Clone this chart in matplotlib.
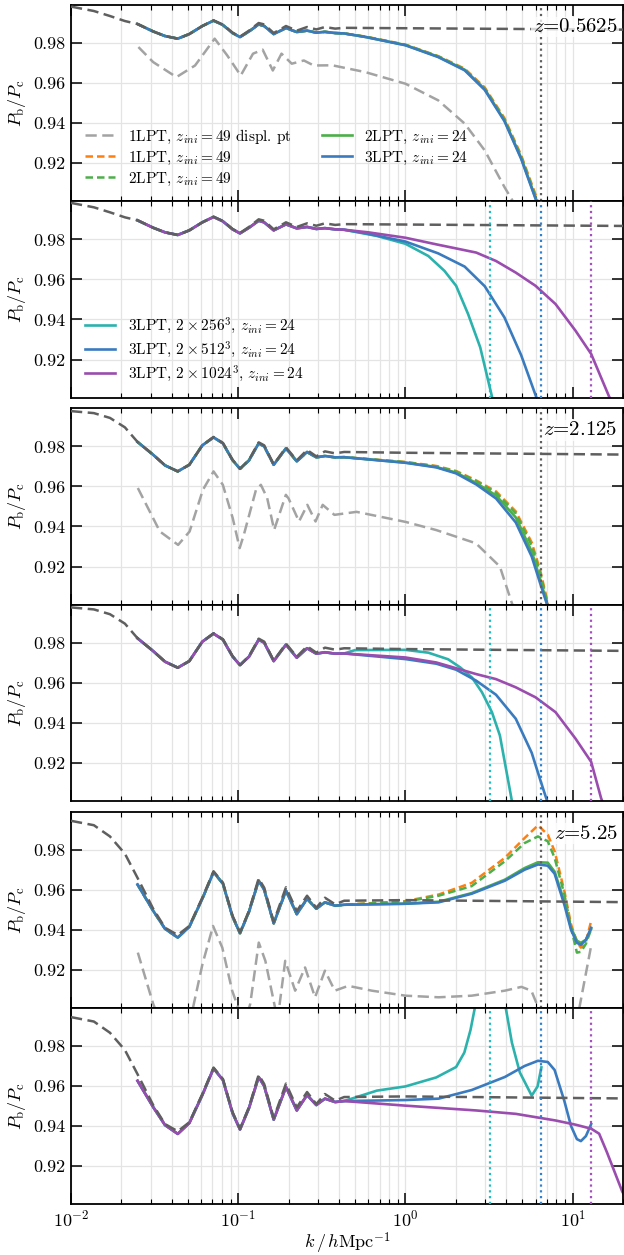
import numpy as np
import matplotlib
matplotlib.use("Agg")
import matplotlib.pyplot as plt
from matplotlib.ticker import LogLocator, FixedLocator, FormatStrFormatter, NullFormatter, NullLocator

plt.rcParams.update({
    "font.family": "serif",
    "font.serif": ["cmr10", "DejaVu Serif"],
    "mathtext.fontset": "cm",
    "axes.formatter.use_mathtext": True,
    "axes.unicode_minus": False,
})

# ---------------- data ----------------
redshifts = ["0.5625", "2.125", "5.25"]
k_nyq = [3.217, 6.434, 12.868]

# shared BAO-region k grid
k_bao = [0.025, 0.031, 0.0365, 0.0435, 0.051, 0.061, 0.0712, 0.081, 0.0925, 0.1025,
         0.116, 0.1325, 0.143, 0.163, 0.193, 0.224, 0.258, 0.293, 0.33, 0.38, 0.43]

# reference (dark dashed) low-k part and tail
k_ref_lo = [0.010, 0.0137, 0.0171, 0.0210]
k_ref_hi = [1.0, 20.0]
ref_lo_z0 = [0.9982, 0.9960, 0.9935, 0.9910]
ref_bao_z0 = [0.9895, 0.9858, 0.9835, 0.9822, 0.9845, 0.9885, 0.9913, 0.9892, 0.9852, 0.9832,
              0.9862, 0.9900, 0.9893, 0.9850, 0.9885, 0.9862, 0.9880, 0.9868, 0.9880, 0.9872, 0.9876]
ref_hi_z0 = [0.9874, 0.9867]
ref_lo_z1 = [0.9976, 0.9966, 0.9942, 0.9895]
ref_bao_z1 = [0.9822, 0.9758, 0.9705, 0.9675, 0.9708, 0.9805, 0.9847, 0.9817, 0.9733, 0.9688,
              0.9733, 0.9820, 0.9805, 0.9710, 0.9795, 0.9730, 0.9782, 0.9750, 0.9775, 0.9765, 0.9772]
ref_hi_z1 = [0.9768, 0.9759]
ref_lo_z2 = [0.9944, 0.9922, 0.9866, 0.9780]
ref_bao_z2 = [0.9659, 0.9505, 0.9410, 0.9374, 0.9419, 0.9560, 0.9692, 0.9635, 0.9470, 0.9386,
              0.9495, 0.9656, 0.9610, 0.9440, 0.9612, 0.9493, 0.9570, 0.9510, 0.9560, 0.9527, 0.9545]
ref_hi_z2 = [0.9548, 0.9538]

# simulations, BAO region (common to all runs of a redshift)
sim_bao_z0 = [0.9895, 0.9858, 0.9835, 0.9822, 0.9845, 0.9885, 0.9912, 0.9890, 0.9850, 0.9830,
              0.9858, 0.9893, 0.9885, 0.9845, 0.9875, 0.9855, 0.9862, 0.9852, 0.9856, 0.9850, 0.9848]
sim_bao_z1 = [0.9822, 0.9758, 0.9705, 0.9675, 0.9708, 0.9805, 0.9845, 0.9815, 0.9731, 0.9688,
              0.9730, 0.9815, 0.9800, 0.9708, 0.9790, 0.9725, 0.9772, 0.9745, 0.9752, 0.9745, 0.9746]
sim_bao_z2 = [0.9626, 0.9495, 0.9405, 0.9361, 0.9415, 0.9555, 0.9688, 0.9630, 0.9465, 0.9383,
              0.9490, 0.9645, 0.9600, 0.9432, 0.9595, 0.9478, 0.9555, 0.9505, 0.9537, 0.9520, 0.9525]

# --- z = 0.5625 tails ---
k_t0 = [0.58, 1.0, 1.57, 2.26, 2.98, 3.91, 4.92, 6.05, 6.6]
orange49_z0 = [0.9832, 0.9792, 0.9735, 0.9672, 0.9578, 0.9425, 0.9240, 0.9035, 0.893]
green49_z0 = [0.9831, 0.9791, 0.9733, 0.9669, 0.9573, 0.9418, 0.9232, 0.9025, 0.892]
green24_z0 = [0.9830, 0.9790, 0.9732, 0.9667, 0.9570, 0.9414, 0.9227, 0.9018, 0.892]
blue24_z0 = [0.9830, 0.9789, 0.9730, 0.9664, 0.9566, 0.9410, 0.9222, 0.9014, 0.891]
k_teal_z0 = [0.675, 1.0, 1.37, 1.71, 2.01, 2.37, 2.8, 3.29, 3.5]
teal_z0 = [0.9817, 0.9778, 0.9717, 0.9643, 0.9568, 0.9427, 0.9261, 0.9016, 0.890]
k_purp_z0 = [0.6, 1.0, 1.53, 2.65, 3.48, 4.57, 6.0, 7.9, 10.4, 12.9, 16.5, 18.0]
purp_z0 = [0.9835, 0.9808, 0.9775, 0.9734, 0.9692, 0.9634, 0.9568, 0.9477, 0.9344, 0.9228, 0.9016, 0.895]
k_disp_z0 = [0.0253, 0.031, 0.0427, 0.0552, 0.0723, 0.086, 0.1035, 0.1226, 0.14, 0.161, 0.1815,
             0.209, 0.247, 0.283, 0.365, 0.575, 1.0, 1.57, 2.26, 2.98, 3.91, 4.43, 4.8]
disp_z0 = [0.978, 0.9705, 0.963, 0.9688, 0.9822, 0.9738, 0.9638, 0.9747, 0.9767, 0.9663, 0.9747,
           0.9697, 0.9713, 0.9688, 0.9689, 0.9655, 0.9597, 0.9514, 0.9398, 0.9264, 0.9081, 0.9005, 0.894]

# --- z = 2.125 tails ---
k_t1 = [1.0, 1.53, 2.01, 2.65, 3.48, 4.57, 5.69, 6.4, 7.0, 7.4]
orange49_z1 = [0.9722, 0.9702, 0.9677, 0.9630, 0.9575, 0.9475, 0.9320, 0.9180, 0.9040, 0.893]
green49_z1 = [0.9721, 0.9700, 0.9674, 0.9626, 0.9568, 0.9465, 0.9305, 0.9165, 0.9030, 0.893]
green24_z1 = [0.9719, 0.9697, 0.9669, 0.9617, 0.9555, 0.9445, 0.9275, 0.9135, 0.9020, 0.893]
blue24_z1 = [0.9718, 0.9695, 0.9665, 0.9610, 0.9540, 0.9420, 0.9250, 0.9115, 0.9015, 0.893]
k_teal_z1 = [0.5, 1.0, 1.37, 1.8, 2.13, 2.5, 2.87, 3.29, 3.67, 4.33, 4.5]
teal_z1 = [0.9763, 0.9764, 0.9750, 0.9717, 0.9676, 0.9626, 0.9552, 0.9453, 0.9337, 0.901, 0.895]
k_purp_z1 = [1.0, 1.53, 2.65, 3.48, 4.57, 6.0, 7.9, 10.4, 12.9, 14.8, 16.0]
purp_z1 = [0.9726, 0.9701, 0.9643, 0.9618, 0.9577, 0.9527, 0.9453, 0.9321, 0.9205, 0.9023, 0.895]
k_disp_z1 = [0.0251, 0.034, 0.0437, 0.0512, 0.0615, 0.0712, 0.0809, 0.0927, 0.102, 0.108, 0.1277,
             0.1366, 0.149, 0.164, 0.1927, 0.20, 0.231, 0.259, 0.29, 0.32, 0.376, 0.51, 1.0, 1.53,
             2.64, 3.67, 4.32, 4.6]
disp_z1 = [0.9592, 0.9375, 0.9308, 0.9375, 0.9583, 0.9675, 0.9608, 0.9442, 0.9292, 0.9358, 0.9583,
           0.9608, 0.9542, 0.9383, 0.9558, 0.9540, 0.9425, 0.9508, 0.9425, 0.9508, 0.9458, 0.9473,
           0.9423, 0.9382, 0.9316, 0.9200, 0.902, 0.896]

# --- z = 5.25 tails ---
k_t2 = [1.0, 1.58, 2.49, 3.93, 5.16, 6.2, 7.1, 7.8, 8.92, 9.78, 10.6, 11.2, 12.0, 12.9]
orange49_z2 = [0.9543, 0.9576, 0.9634, 0.9759, 0.9858, 0.9921, 0.9875, 0.9792, 0.9593, 0.9427,
               0.9340, 0.9311, 0.9340, 0.9444]
green49_z2 = [0.9540, 0.9570, 0.9618, 0.9742, 0.9833, 0.9866, 0.9842, 0.9759, 0.9577, 0.9410,
              0.9286, 0.9290, 0.9330, 0.9403]
green24_z2 = [0.9530, 0.9540, 0.9583, 0.9650, 0.9708, 0.9737, 0.9735, 0.9690, 0.9540, 0.9410,
              0.9345, 0.9335, 0.9350, 0.9403]
blue24_z2 = [0.9530, 0.9537, 0.9580, 0.9645, 0.9700, 0.9726, 0.9720, 0.9680, 0.9525, 0.9400,
             0.9335, 0.9325, 0.9350, 0.9410]
k_teal_z2 = [0.675, 1.0, 1.53, 2.01, 2.25, 2.45, 2.6, 2.8, 3.8, 3.99, 4.33, 4.83, 5.69, 6.17, 6.5]
teal_z2 = [0.9577, 0.9598, 0.9643, 0.9695, 0.9767, 0.9880, 0.9990, 1.010, 1.010, 0.9985, 0.9817,
           0.9668, 0.9552, 0.9598, 0.9693]
k_purp_z2 = [1.0, 2.65, 4.57, 7.9, 10.4, 12.9, 14.4, 16.0, 19.8, 20.5]
purp_z2 = [0.9502, 0.9478, 0.9461, 0.9428, 0.9407, 0.9387, 0.9362, 0.9271, 0.9073, 0.905]
k_disp_z2 = [0.0251, 0.031, 0.040, 0.0533, 0.0611, 0.0707, 0.0803, 0.092, 0.101, 0.108, 0.118,
             0.1327, 0.1453, 0.1628, 0.172, 0.191, 0.219, 0.251, 0.288, 0.33, 0.378, 0.455, 0.63,
             1.0, 1.58, 2.49, 3.93, 4.94, 5.66, 6.2, 6.6, 10.5, 11.0, 12.9]
disp_z2 = [0.9286, 0.903, 0.880, 0.900, 0.9228, 0.9419, 0.9311, 0.9096, 0.900, 0.892, 0.903,
           0.9336, 0.9245, 0.9046, 0.895, 0.9245, 0.9096, 0.9212, 0.9063, 0.9196, 0.9096, 0.912,
           0.9096, 0.9071, 0.9063, 0.9071, 0.9096, 0.9115, 0.9096, 0.9016, 0.880, 0.880, 0.9016, 0.932]

legend_top = ["1LPT, $z_{ini}=49$ displ. pt", "1LPT, $z_{ini}=49$", "2LPT, $z_{ini}=49$",
              "2LPT, $z_{ini}=24$", "3LPT, $z_{ini}=24$"]
legend_bot = ["3LPT, $2\\times256^3$, $z_{ini}=24$", "3LPT, $2\\times512^3$, $z_{ini}=24$",
              "3LPT, $2\\times1024^3$, $z_{ini}=24$"]

# ---------------- styling ----------------
c_ref = "#5f5f5f"
c_disp = "#a3a3a3"
c_orange = "#ff7f0e"
c_green = "#4daf4a"
c_blue = "#3a7bbf"
c_teal = "#2cb2ad"
c_purple = "#9a4dae"
c_vteal = "#1fbcc4"
c_vblue = "#2f82d0"
c_vpurple = "#a450bf"

W, H = 624, 1255
fig = plt.figure(figsize=(W / 100, H / 100), dpi=100)
tops = [5, 201.3, 408.3, 604.6, 811.6, 1007.9]
ph = 196.3
ylim = (0.9010, 0.9990)

groups = [
    (ref_lo_z0, ref_bao_z0, ref_hi_z0, sim_bao_z0, k_t0, orange49_z0, green49_z0, green24_z0, blue24_z0,
     k_teal_z0, teal_z0, k_purp_z0, purp_z0, k_disp_z0, disp_z0, k_t0, blue24_z0),
    (ref_lo_z1, ref_bao_z1, ref_hi_z1, sim_bao_z1, k_t1, orange49_z1, green49_z1, green24_z1, blue24_z1,
     k_teal_z1, teal_z1, k_purp_z1, purp_z1, k_disp_z1, disp_z1, k_t1, blue24_z1),
    (ref_lo_z2, ref_bao_z2, ref_hi_z2, sim_bao_z2, k_t2, orange49_z2, green49_z2, green24_z2, blue24_z2,
     k_teal_z2, teal_z2, k_purp_z2, purp_z2, k_disp_z2, disp_z2, k_t2, blue24_z2),
]

ref_ls = (0, (4.5, 2.2))
lw_sim = 1.9


def style_axis(ax, bottom_labels):
    ax.set_xscale("log")
    ax.set_xlim(1e-2, 20)
    ax.set_ylim(*ylim)
    ax.xaxis.set_major_locator(LogLocator(base=10, numticks=10))
    ax.xaxis.set_minor_locator(LogLocator(base=10, subs=np.arange(2, 10), numticks=20))
    ax.xaxis.set_minor_formatter(NullFormatter())
    ax.yaxis.set_major_locator(FixedLocator([0.92, 0.94, 0.96, 0.98]))
    ax.yaxis.set_major_formatter(FormatStrFormatter("%.2f"))
    ax.yaxis.set_minor_locator(NullLocator())
    ax.tick_params(which="major", direction="in", top=True, right=True, length=8, width=1.1,
                   labelsize=13, pad=4)
    ax.tick_params(which="minor", direction="in", top=True, right=True, length=3.8, width=0.8)
    if not bottom_labels:
        ax.tick_params(axis="x", which="both", labelbottom=False)
    else:
        ax.tick_params(axis="x", which="major", pad=3)
    ax.grid(True, axis="x", which="both", color="#e4e4e4", lw=0.9)
    ax.grid(True, axis="y", which="major", color="#e4e4e4", lw=0.9)
    ax.set_axisbelow(True)
    for s in ax.spines.values():
        s.set_linewidth(1.3)
    ax.set_ylabel("$P_\\mathrm{b}/P_\\mathrm{c}$", fontsize=13, labelpad=4)


for gi, g in enumerate(groups):
    (r_lo, r_bao, r_hi, s_bao, k_t, o49, g49, g24, b24,
     k_te, te, k_pu, pu, k_di, di, k_bl, bl) = g
    k_ref = k_ref_lo + k_bao + k_ref_hi
    v_ref = r_lo + r_bao + r_hi

    # top panel of the pair
    ax = fig.add_axes([71 / W, 1 - (tops[2 * gi] + ph) / H, 552 / W, ph / H])
    style_axis(ax, False)
    ax.plot(k_di, di, color=c_disp, lw=1.8, ls=(0, (4.5, 2.2)), label=legend_top[0])
    ax.plot(k_bao + k_t, s_bao + o49, color=c_orange, lw=1.8, ls=(0, (3, 1.6)), label=legend_top[1])
    ax.plot(k_bao + k_t, s_bao + g49, color=c_green, lw=1.8, ls=(0, (3, 1.6)), label=legend_top[2])
    ax.plot(k_bao + k_t, s_bao + g24, color=c_green, lw=lw_sim, label=legend_top[3])
    ax.plot(k_bao + k_t, s_bao + b24, color=c_blue, lw=lw_sim, label=legend_top[4])
    ax.plot(k_ref, v_ref, color=c_ref, lw=1.8, ls=ref_ls, zorder=3)
    ax.axvline(k_nyq[1], color=c_ref, lw=1.6, ls=(0, (1, 1.6)), zorder=3)
    ax.text(0.99, 0.888, "$z$=" + redshifts[gi], transform=ax.transAxes, ha="right", va="center",
            fontsize=15, zorder=6,
            bbox=dict(facecolor="white", edgecolor="none", alpha=0.75, pad=1.0))
    if gi == 0:
        ax.legend(loc="lower left", ncol=2, frameon=False, fontsize=11, handlelength=2.0,
                  labelspacing=0.25, columnspacing=2.0)

    # bottom panel of the pair
    ax2 = fig.add_axes([71 / W, 1 - (tops[2 * gi + 1] + ph) / H, 552 / W, ph / H])
    style_axis(ax2, gi == 2)
    ax2.plot(k_bao + k_te, s_bao + te, color=c_teal, lw=lw_sim, label=legend_bot[0])
    ax2.plot(k_bao + k_bl, s_bao + bl, color=c_blue, lw=lw_sim, label=legend_bot[1])
    ax2.plot(k_bao + k_pu, s_bao + pu, color=c_purple, lw=lw_sim, label=legend_bot[2])
    ax2.plot(k_ref, v_ref, color=c_ref, lw=1.8, ls=ref_ls, zorder=3)
    for kn, cv in zip(k_nyq, [c_vteal, c_vblue, c_vpurple]):
        ax2.axvline(kn, color=cv, lw=1.6, ls=(0, (1, 1.6)), zorder=3)
    if gi == 0:
        ax2.legend(loc="lower left", frameon=False, fontsize=11, handlelength=2.0,
                   labelspacing=0.25)
    if gi == 2:
        ax2.set_xlabel("$k\\,/\\,h\\mathrm{Mpc}^{-1}$", fontsize=13, labelpad=1)

fig.savefig("out.png", dpi=100)
